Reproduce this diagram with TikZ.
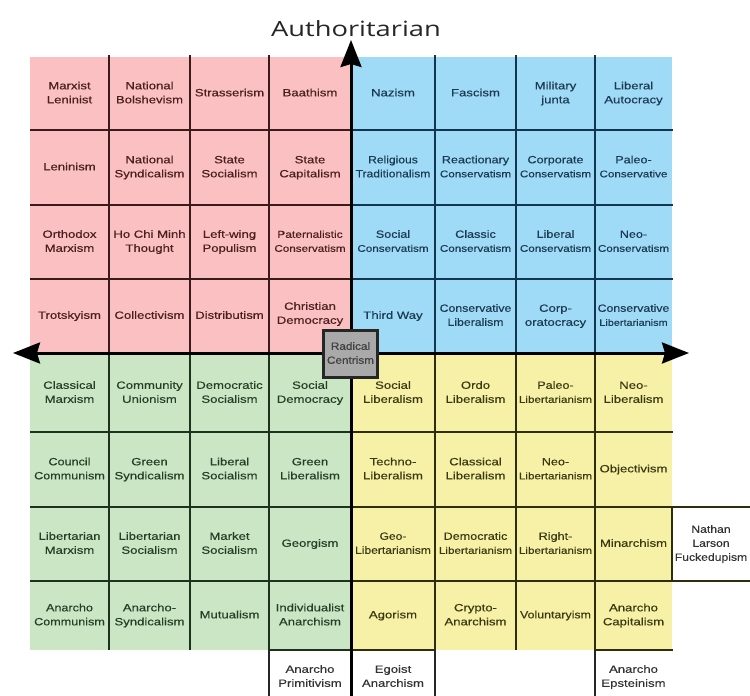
\documentclass[tikz,border=0pt]{standalone}
\usepackage{fontspec}
\usepackage{graphicx}
\setmainfont{Liberation Sans}
\newfontfamily\cellfont{Liberation Sans}[FakeBold=0.35]
\newfontfamily\titlefont{Open Sans}
\usetikzlibrary{arrows.meta}
\definecolor{pinkf}{HTML}{FBC0C1}
\definecolor{bluef}{HTML}{9FDBF6}
\definecolor{greenf}{HTML}{CBE6C5}
\definecolor{yellowf}{HTML}{F6F1A6}
\definecolor{redtxt}{HTML}{4A1F1F}
\definecolor{bluetxt}{HTML}{1B3B52}
\definecolor{greentxt}{HTML}{243F26}
\definecolor{yeltxt}{HTML}{3A3A12}
\definecolor{redln}{HTML}{3B1A1A}
\definecolor{blueln}{HTML}{123650}
\definecolor{greenln}{HTML}{1D321D}
\definecolor{yelln}{HTML}{2E2E0E}
\definecolor{grayf}{HTML}{A9A9A9}
\newcommand{\cl}[2][1.25]{\scalebox{#1}[1]{\begin{tabular}{@{}c@{}}#2\end{tabular}}}
\newcommand{\sm}{\fontsize{9.7}{14}\selectfont}
\tikzset{
  cellt/.style={inner sep=0pt, font=\cellfont\fontsize{10.5}{14}\selectfont},
  tr/.style={cellt, text=redtxt},
  tb/.style={cellt, text=bluetxt},
  tg/.style={cellt, text=greentxt},
  ty/.style={cellt, text=yeltxt},
  tw/.style={cellt, text=black!80},
  gline/.style={line width=2.5pt},
  axis/.style={line width=3pt, black, -{Stealth[length=27pt, width=21pt, inset=3pt]}},
}
\begin{document}
\begin{tikzpicture}[x=1pt, y=-1pt]
\useasboundingbox (0,0) rectangle (750,696);
% fills
\fill[pinkf] (30,57) rectangle (351,353);
\fill[bluef] (351,57) rectangle (672,353);
\fill[greenf] (30,353) rectangle (351,650);
\fill[yellowf] (351,353) rectangle (672,650);
% red quadrant lines
\foreach \x in {109,190,269} \draw[gline, redln] (\x,55) -- (\x,353);
\foreach \y in {130,205,279} \draw[gline, redln] (30,\y) -- (351,\y);
% blue quadrant lines
\foreach \x in {435,516,595} \draw[gline, blueln] (\x,55) -- (\x,353);
\foreach \y in {130,205,279} \draw[gline, blueln] (351,\y) -- (673,\y);
% green quadrant lines
\foreach \x in {109,190} \draw[gline, greenln] (\x,353) -- (\x,650);
\draw[gline, greenln] (269,353) -- (269,650);
\foreach \y in {432,507,581} \draw[gline, greenln] (30,\y) -- (351,\y);
\draw[gline, greenln] (269,650) -- (351,650);
% yellow quadrant lines
\draw[gline, yelln] (435,353) -- (435,650);
\draw[gline, yelln] (516,353) -- (516,650);
\draw[gline, yelln] (595,353) -- (595,650);
\draw[gline, yelln] (351,432) -- (673,432);
\draw[gline, yelln] (351,507) -- (750,507);
\draw[gline, yelln] (351,581) -- (750,581);
\draw[gline, yelln] (672,507) -- (672,581);
\draw[gline, yelln] (351,650) -- (435,650);
\draw[gline, yelln] (595,650) -- (673,650);
% white bottom cell borders
\draw[gline, black!85] (269,650) -- (269,696);
\draw[gline, black!85] (435,650) -- (435,696);
\draw[gline, black!85] (595,650) -- (595,696);
% axes
\coordinate (ttop) at (351,40);
\coordinate (tbot) at (351,696);
\coordinate (lft) at (13,353);
\coordinate (rgt) at (689,353);
\draw[axis] (tbot) -- (ttop);
\draw[axis, {Stealth[length=27pt, width=21pt, inset=3pt]}-{Stealth[length=27pt, width=21pt, inset=3pt]}] (lft) -- (rgt);
% title
\node[anchor=base, inner sep=0pt, font=\titlefont\fontsize{21}{24}\selectfont, text=black!85] (title) at (356,36) {\scalebox{1.3}[1]{Authoritarian}};
% row 1
\node[tr] (r1c1) at (69.5,93.5) {\cl{Marxist\\Leninist}};
\node[tr] (r1c2) at (149.5,93.5) {\cl{National\\Bolshevism}};
\node[tr] (r1c3) at (229.5,93.5) {\cl{Strasserism}};
\node[tr] (r1c4) at (310,93.5) {\cl{Baathism}};
\node[tb] (r1c5) at (393,93.5) {\cl{Nazism}};
\node[tb] (r1c6) at (475.5,93.5) {\cl{Fascism}};
\node[tb] (r1c7) at (555.5,93.5) {\cl{Military\\junta}};
\node[tb] (r1c8) at (633.5,93.5) {\cl{Liberal\\Autocracy}};
% row 2
\node[tr] (r2c1) at (69.5,167.5) {\cl{Leninism}};
\node[tr] (r2c2) at (149.5,167.5) {\cl{National\\Syndicalism}};
\node[tr] (r2c3) at (229.5,167.5) {\cl{State\\Socialism}};
\node[tr] (r2c4) at (310,167.5) {\cl{State\\Capitalism}};
\node[tb] (r2c5) at (393,167.5) {\cl[1.15]{Religious\\Traditionalism}};
\node[tb] (r2c6) at (475.5,167.5) {\cl[1.2]{Reactionary\\{\sm Conservatism}}};
\node[tb] (r2c7) at (555.5,167.5) {\cl[1.2]{Corporate\\{\sm Conservatism}}};
\node[tb] (r2c8) at (633.5,167.5) {\cl[1.2]{Paleo-\\{\sm Conservative}}};
% row 3
\node[tr] (r3c1) at (69.5,242) {\cl{Orthodox\\Marxism}};
\node[tr] (r3c2) at (149.5,242) {\cl{Ho Chi Minh\\Thought}};
\node[tr] (r3c3) at (229.5,242) {\cl{Left-wing\\Populism}};
\node[tr] (r3c4) at (310,242) {\cl[1.2]{{\fontsize{10}{14}\selectfont Paternalistic}\\{\sm Conservatism}}};
\node[tb] (r3c5) at (393,242) {\cl[1.2]{Social\\{\sm Conservatism}}};
\node[tb] (r3c6) at (475.5,242) {\cl[1.2]{Classic\\{\sm Conservatism}}};
\node[tb] (r3c7) at (555.5,242) {\cl[1.2]{Liberal\\{\sm Conservatism}}};
\node[tb] (r3c8) at (633.5,242) {\cl[1.2]{Neo-\\{\sm Conservatism}}};
% row 4
\node[tr] (r4c1) at (69.5,316) {\cl{Trotskyism}};
\node[tr] (r4c2) at (149.5,316) {\cl{Collectivism}};
\node[tr] (r4c3) at (229.5,316) {\cl{Distributism}};
\node[tr] (r4c4) at (310,314) {\cl{Christian\\Democracy}};
\node[tb] (r4c5) at (393,316) {\cl{Third Way}};
\node[tb] (r4c6) at (475.5,316) {\cl[1.17]{Conservative\\Liberalism}};
\node[tb] (r4c7) at (555.5,316) {\cl{Corp-\\oratocracy}};
\node[tb] (r4c8) at (633.5,316) {\cl[1.17]{Conservative\\{\fontsize{9.3}{14}\selectfont Libertarianism}}};
% row 5
\node[tg] (r5c1) at (69.5,393) {\cl{Classical\\Marxism}};
\node[tg] (r5c2) at (149.5,393) {\cl{Community\\Unionism}};
\node[tg] (r5c3) at (229.5,393) {\cl{Democratic\\Socialism}};
\node[tg] (r5c4) at (310,393) {\cl{Social\\Democracy}};
\node[ty] (r5c5) at (393,393) {\cl{Social\\Liberalism}};
\node[ty] (r5c6) at (475.5,393) {\cl{Ordo\\Liberalism}};
\node[ty] (r5c7) at (555.5,393) {\cl[1.2]{Paleo-\\{\sm Libertarianism}}};
\node[ty] (r5c8) at (633.5,393) {\cl{Neo-\\Liberalism}};
% row 6
\node[tg] (r6c1) at (69.5,469.5) {\cl[1.2]{Council\\Communism}};
\node[tg] (r6c2) at (149.5,469.5) {\cl{Green\\Syndicalism}};
\node[tg] (r6c3) at (229.5,469.5) {\cl{Liberal\\Socialism}};
\node[tg] (r6c4) at (310,469.5) {\cl{Green\\Liberalism}};
\node[ty] (r6c5) at (393,469.5) {\cl{Techno-\\Liberalism}};
\node[ty] (r6c6) at (475.5,469.5) {\cl{Classical\\Liberalism}};
\node[ty] (r6c7) at (555.5,469.5) {\cl[1.2]{Neo-\\{\sm Libertarianism}}};
\node[ty] (r6c8) at (633.5,469.5) {\cl{Objectivism}};
% row 7
\node[tg] (r7c1) at (69.5,544) {\cl{Libertarian\\Marxism}};
\node[tg] (r7c2) at (149.5,544) {\cl{Libertarian\\Socialism}};
\node[tg] (r7c3) at (229.5,544) {\cl{Market\\Socialism}};
\node[tg] (r7c4) at (310,544) {\cl{Georgism}};
\node[ty] (r7c5) at (393,544) {\cl[1.15]{Geo-\\Libertarianism}};
\node[ty] (r7c6) at (475.5,544) {\cl[1.2]{Democratic\\{\sm Libertarianism}}};
\node[ty] (r7c7) at (555.5,544) {\cl[1.2]{Right-\\{\sm Libertarianism}}};
\node[ty] (r7c8) at (633.5,544) {\cl{Minarchism}};
\node[tw] (nathan) at (711,544) {\cl[1.16]{Nathan\\Larson\\Fuckedupism}};
% row 8
\node[tg] (r8c1) at (69.5,615.5) {\cl[1.2]{Anarcho\\Communism}};
\node[tg] (r8c2) at (149.5,615.5) {\cl{Anarcho-\\Syndicalism}};
\node[tg] (r8c3) at (229.5,615.5) {\cl{Mutualism}};
\node[tg] (r8c4) at (310,615.5) {\cl{Individualist\\Anarchism}};
\node[ty] (r8c5) at (393,615.5) {\cl{Agorism}};
\node[ty] (r8c6) at (475.5,615.5) {\cl{Crypto-\\Anarchism}};
\node[ty] (r8c7) at (555.5,615.5) {\cl[1.18]{Voluntaryism}};
\node[ty] (r8c8) at (633.5,615.5) {\cl{Anarcho\\Capitalism}};
% bottom white cells
\node[tw] (b4) at (310,677) {\cl{Anarcho\\Primitivism}};
\node[tw] (b5) at (393,677) {\cl{Egoist\\Anarchism}};
\node[tw] (b8) at (633.5,677) {\cl{Anarcho\\Epsteinism}};
% radical centrism
\node[draw=black!85, line width=2.5pt, fill=grayf, minimum width=54pt, minimum height=47pt, inner sep=0pt, font=\cellfont\fontsize{10.5}{14}\selectfont, text=black!75] (rc) at (350.5,354) {\cl[1.12]{Radical\\Centrism}};
\end{tikzpicture}
\end{document}
